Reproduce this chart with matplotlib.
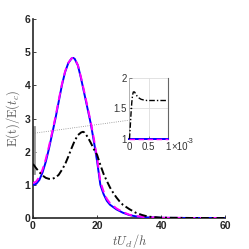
import matplotlib
matplotlib.use("Agg")
import matplotlib.pyplot as plt
import numpy as np

plt.rcParams["font.family"] = ["Liberation Sans", "DejaVu Sans"]
plt.rcParams["mathtext.fontset"] = "cm"

# ── main panel data ────────────────────────────────────────────────────────
t_blue = [0, 1, 2, 3, 4, 5, 6, 7, 8, 9, 10, 11, 12, 12.5, 13, 14, 15, 16, 17,
          18, 19, 20, 21, 22, 23, 24, 26, 28, 30, 32, 35, 40, 50, 60]
e_blue = [1.0, 1.03, 1.15, 1.38, 1.7, 2.1, 2.55, 3.0, 3.5, 4.0, 4.4, 4.67, 4.81,
          4.83, 4.8, 4.6, 4.2, 3.75, 3.3, 2.85, 2.3, 1.7, 1.0, 0.72, 0.52, 0.4,
          0.26, 0.16, 0.09, 0.05, 0.02, 0.005, 0.0, 0.0]

t_mag = [0, 1, 2, 3, 4, 5, 6, 7, 8, 9, 10, 11, 12, 12.5, 13, 14, 15, 16, 17,
         18, 19, 20, 21, 22, 23, 24, 26, 28, 30, 32, 35, 40, 50, 60]
e_mag = [1.05, 1.1, 1.24, 1.47, 1.78, 2.17, 2.6, 3.05, 3.55, 4.03, 4.42, 4.68,
         4.81, 4.83, 4.8, 4.61, 4.23, 3.8, 3.35, 2.9, 2.38, 1.8, 1.1, 0.8, 0.58,
         0.45, 0.29, 0.18, 0.1, 0.06, 0.025, 0.006, 0.0, 0.0]

t_blk = [0, 1, 2, 3, 4, 5, 6, 7, 8, 9, 10, 11, 12, 13, 14, 15, 15.6, 16, 17, 18,
         19, 20, 21, 22, 23, 24, 25, 26, 27, 28, 30, 32, 34, 36, 40, 50, 60]
e_blk = [1.63, 1.5, 1.38, 1.28, 1.21, 1.18, 1.18, 1.22, 1.3, 1.45, 1.62, 1.85,
         2.1, 2.33, 2.5, 2.58, 2.6, 2.58, 2.45, 2.27, 2.07, 1.9, 1.6, 1.33, 1.12,
         0.92, 0.76, 0.62, 0.5, 0.4, 0.27, 0.16, 0.09, 0.04, 0.01, 0.0, 0.0]

# ── inset data (time in units of 1e-3) ─────────────────────────────────────
ti_blk = [0, 0.02, 0.04, 0.06, 0.08, 0.1, 0.13, 0.16, 0.2, 0.25, 0.3, 0.36,
          0.45, 0.55, 0.7, 0.85, 1.0]
ei_blk = [1.0, 1.2, 1.42, 1.6, 1.72, 1.77, 1.77, 1.74, 1.7, 1.67, 1.65, 1.64,
          1.63, 1.63, 1.63, 1.63, 1.63]
ti_flat = [0, 1.0]
ei_flat = [1.0, 1.0]

AX_COL = "#262626"

fig = plt.figure(figsize=(2.49, 2.49), dpi=100)
ax = fig.add_axes([0.1325, 0.1245, 0.773, 0.799])

ax.plot(t_blue, e_blue, color="#0000ff", lw=1.4, zorder=3)
ax.plot(t_mag, e_mag, color="#ff00ff", lw=1.4, ls=(0, (4, 2.5)), zorder=4)
ax.plot(t_blk, e_blk, color="black", lw=1.4, ls=(0, (4, 1.5, 1, 1.5)), zorder=5)

# zoom marker and connector to inset
ax.plot([0.3, 0.3], [1.35, 2.75], color="#999999", lw=2.0, zorder=2, clip_on=False)
ax.plot([0.6, 30.0], [2.56, 2.95], color="#888888", lw=0.6, ls=":", zorder=2)

ax.set_xlim(0, 60)
ax.set_ylim(0, 6)
ax.set_xticks([0, 20, 40, 60])
ax.set_yticks(range(7))
for s in ["top", "right"]:
    ax.spines[s].set_visible(False)
for s in ["left", "bottom"]:
    ax.spines[s].set_color(AX_COL)
    ax.spines[s].set_linewidth(1.2)
ax.tick_params(direction="in", length=2.5, width=0.6, colors=AX_COL,
               labelsize=7.5, pad=2)
for lab in ax.get_xticklabels() + ax.get_yticklabels():
    lab.set_fontweight("bold")
ax.set_xlabel(r"$tU_{cl}/h$", fontsize=9, color="#555555", labelpad=1)
ax.set_ylabel(r"$\mathrm{E(t)/E(}t_c\mathrm{)}$", fontsize=9, color="#555555",
              labelpad=2)

# ── inset ──────────────────────────────────────────────────────────────────
ins = fig.add_axes([0.52, 0.442, 0.155, 0.245])
ins.patch.set_alpha(0)
ins.plot(ti_flat, ei_flat, color="#0000ff", lw=1.4, zorder=3, clip_on=False)
ins.plot(ti_flat, ei_flat, color="#ff00ff", lw=1.0, ls=(0, (4, 2.5)), zorder=4,
         clip_on=False)
ins.plot(ti_blk, ei_blk, color="black", lw=1.0, ls=(0, (4, 1.5, 1, 1.5)),
         zorder=5, clip_on=False)
ins.set_xlim(0, 1.0)
ins.set_ylim(1, 2)
ins.set_xticks([0, 0.5, 1.0])
ins.set_xticklabels(["0", "0.5", "1"])
ins.set_yticks([1, 1.5, 2])
ins.set_yticklabels(["1", "1.5", "2"])
ins.grid(True, color="#dddddd", lw=0.6)
ins.spines["top"].set_visible(False)
ins.spines["bottom"].set_visible(False)
ins.spines["left"].set_color("#aaaaaa")
ins.spines["left"].set_linewidth(0.6)
ins.spines["right"].set_color("#666666")
ins.spines["right"].set_linewidth(0.8)
ins.tick_params(direction="in", length=2, width=0.5, colors="#555555",
                labelsize=7, pad=2)
for lab in ins.get_xticklabels() + ins.get_yticklabels():
    lab.set_color("#333333")
ins.text(1.08, -0.055, "\u00d710", transform=ins.transAxes, fontsize=7,
         color="#333333", va="top", ha="left")
ins.text(1.47, 0.02, "-3", transform=ins.transAxes, fontsize=5.5,
         color="#333333", va="top", ha="left")

fig.savefig("out.png", dpi=100)
